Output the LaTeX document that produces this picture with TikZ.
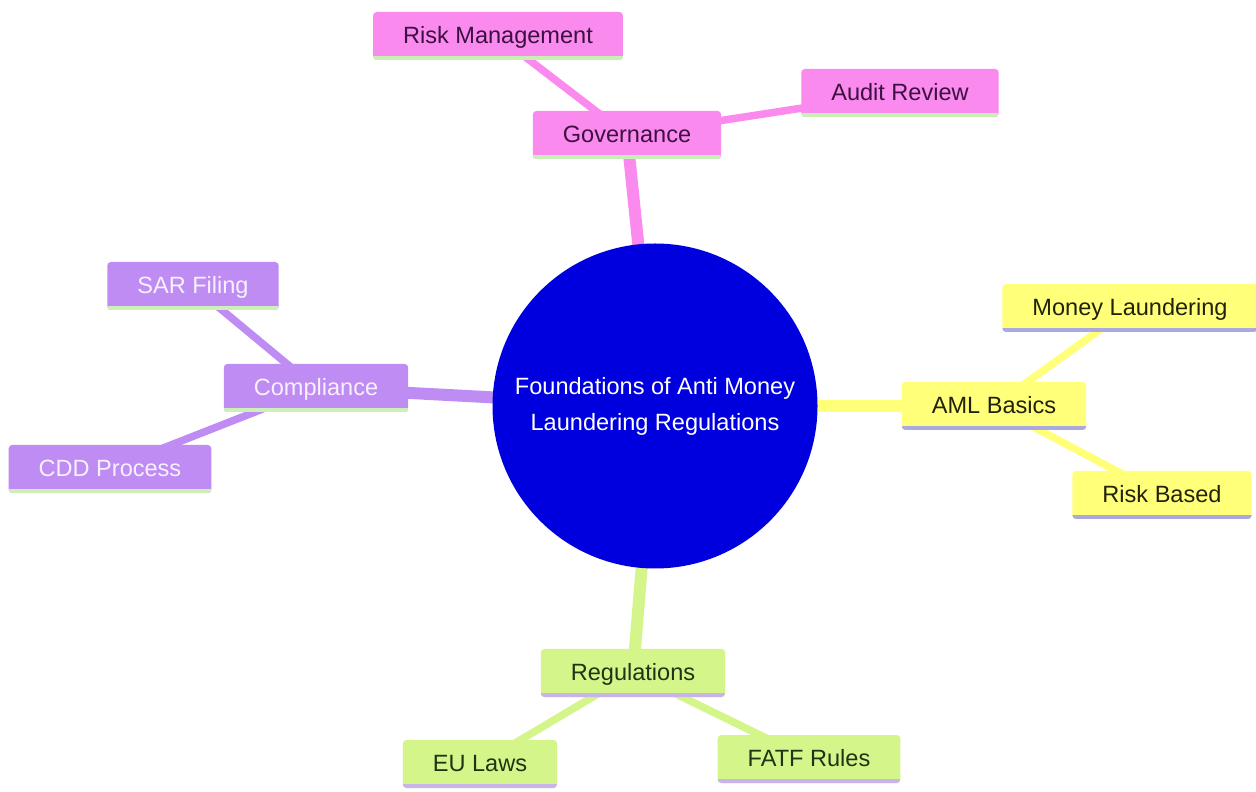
\documentclass[tikz,border=0pt]{standalone}
\usepackage{fontspec}
\setmainfont{Liberation Sans}
\usetikzlibrary{positioning}
\pgfdeclarelayer{background}
\pgfsetlayers{background,main}
\definecolor{rootblue}{RGB}{0,0,222}
\definecolor{govpink}{RGB}{250,138,238}
\definecolor{govtext}{RGB}{60,16,64}
\definecolor{govline}{RGB}{200,240,180}
\definecolor{complilac}{RGB}{190,140,242}
\definecolor{comptext}{RGB}{248,240,255}
\definecolor{compline}{RGB}{205,240,185}
\definecolor{amlyellow}{RGB}{255,255,122}
\definecolor{amltext}{RGB}{34,34,10}
\definecolor{amlline}{RGB}{170,168,225}
\definecolor{reggreen}{RGB}{212,245,138}
\definecolor{regtext}{RGB}{34,50,20}
\definecolor{regline}{RGB}{200,180,232}

\begin{document}
\begin{tikzpicture}[
  box/.style={rectangle,rounded corners=2pt,minimum height=0.96cm,inner xsep=0.6cm,
    text height=2.1ex,text depth=0.4ex,font=\fontsize{13.4}{16}\selectfont},
  under/.style={path picture={\draw[line width=0.16cm,#1] (path picture bounding box.south west) -- (path picture bounding box.south east);}},
  gov node/.style={box,fill=govpink,text=govtext,under=govline},
  comp node/.style={box,fill=complilac,text=comptext,under=compline},
  aml node/.style={box,fill=amlyellow,text=amltext,under=amlline},
  reg node/.style={box,fill=reggreen,text=regtext,under=regline},
  root node/.style={circle,fill=rootblue,text=white,minimum size=6.5cm,align=center,
    font=\fontsize{13.4}{20.5}\selectfont},
  trunk/.style={line width=0.24cm,draw=#1},
  twig/.style={line width=0.15cm,draw=#1}]
\useasboundingbox (0,0) rectangle (25.12,15.82);
\node[root node] (root) at (13.10,7.70) {Foundations of Anti Money\\Laundering Regulations};
% governance branch
\node[gov node] (gov) at (12.54,13.12) {Governance};
\node[gov node] (riskman) at (9.96,15.10) {Risk Management};
\node[gov node] (audit) at (18.00,13.96) {Audit Review};
% compliance branch
\node[comp node] (comp) at (6.32,8.06) {Compliance};
\node[comp node] (sar) at (3.86,10.10) {SAR Filing};
\node[comp node] (cdd) at (2.20,6.44) {CDD Process};
% aml branch
\node[aml node] (aml) at (19.88,7.70) {AML Basics};
\node[aml node] (money) at (22.60,9.66) {Money Laundering};
\node[aml node] (riskbased) at (23.24,5.92) {Risk Based};
% regulations branch
\node[reg node] (regs) at (12.66,2.36) {Regulations};
\node[reg node] (eu) at (9.60,0.54) {EU Laws};
\node[reg node] (fatf) at (16.18,0.64) {FATF Rules};
\begin{pgfonlayer}{background}
\fill[white] (0,0) rectangle (25.12,15.82);
\draw[trunk=govpink] (root.center) -- (gov.center);
\draw[twig=govpink] (gov.center) -- (riskman.center);
\draw[twig=govpink] (gov.center) -- (audit.center);
\draw[trunk=complilac] (root.center) -- (comp.center);
\draw[twig=complilac] (comp.center) -- (sar.center);
\draw[twig=complilac] (comp.center) -- (cdd.center);
\draw[trunk=amlyellow] (root.center) -- (aml.center);
\draw[twig=amlyellow] (aml.center) -- (money.center);
\draw[twig=amlyellow] (aml.center) -- (riskbased.center);
\draw[trunk=reggreen] (root.center) -- (regs.center);
\draw[twig=reggreen] (regs.center) -- (eu.center);
\draw[twig=reggreen] (regs.center) -- (fatf.center);
\end{pgfonlayer}
\end{tikzpicture}
\end{document}
